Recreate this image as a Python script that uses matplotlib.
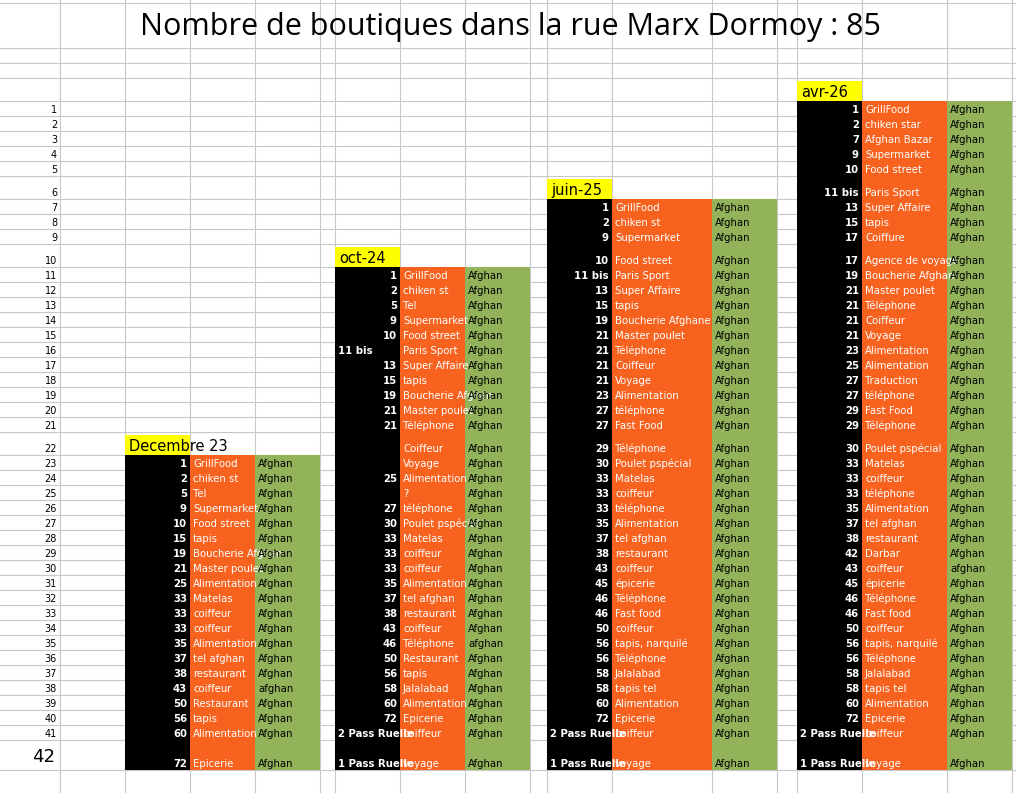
import matplotlib
matplotlib.use("Agg")
import matplotlib.pyplot as plt
from matplotlib.transforms import Bbox, TransformedBbox

title = "Nombre de boutiques dans la rue Marx Dormoy : 85"

dec23_label = "Decembre 23"
dec23_start = 23
dec23_num = ["1","2","5","9","10","15","19","21","25","33","33","33","35","37","38","43","50","56","60","72"]
dec23_shop = ["GrillFood","chiken st","Tel","Supermarket","Food street","tapis","Boucherie Afghan","Master poulet",
              "Alimentation","Matelas","coiffeur","coiffeur","Alimentation","tel afghan","restaurant","coiffeur",
              "Restaurant","tapis","Alimentation","Epicerie"]
dec23_orig = ["Afghan"]*15 + ["afghan"] + ["Afghan"]*4

oct24_label = "oct-24"
oct24_start = 11
oct24_num = ["1","2","5","9","10","11 bis","13","15","19","21","21","","","25","","27","30","33","33","33","35",
             "37","38","43","46","50","56","58","60","72","2 Pass Ruelle","1 Pass Ruelle"]
oct24_shop = ["GrillFood","chiken st","Tel","Supermarket","Food street","Paris Sport","Super Affaire","tapis",
              "Boucherie Afghan","Master poulet","Téléphone","Coiffeur","Voyage","Alimentation","?","téléphone",
              "Poulet pspécial","Matelas","coiffeur","coiffeur","Alimentation","tel afghan","restaurant","coiffeur",
              "Téléphone","Restaurant","tapis","Jalalabad","Alimentation","Epicerie","coiffeur","voyage"]
oct24_orig = ["Afghan"]*24 + ["afghan"] + ["Afghan"]*7

jun25_label = "juin-25"
jun25_start = 7
jun25_num = ["1","2","9","10","11 bis","13","15","19","21","21","21","21","23","27","27","29","30","33","33","33",
             "35","37","38","43","45","46","46","50","56","56","58","58","60","72","2 Pass Ruelle","1 Pass Ruelle"]
jun25_shop = ["GrillFood","chiken st","Supermarket","Food street","Paris Sport","Super Affaire","tapis",
              "Boucherie Afghane","Master poulet","Téléphone","Coiffeur","Voyage","Alimentation","téléphone",
              "Fast Food","Téléphone","Poulet pspécial","Matelas","coiffeur","téléphone","Alimentation","tel afghan",
              "restaurant","coiffeur","épicerie","Téléphone","Fast food","coiffeur","tapis, narquilé","Téléphone",
              "Jalalabad","tapis tel","Alimentation","Epicerie","coiffeur","voyage"]
jun25_orig = ["Afghan"]*36

avr26_label = "avr-26"
avr26_start = 1
avr26_num = ["1","2","7","9","10","11 bis","13","15","17","17","19","21","21","21","21","23","25","27","27","29",
             "29","30","33","33","33","35","37","38","42","43","45","46","46","50","56","56","58","58","60","72",
             "2 Pass Ruelle","1 Pass Ruelle"]
avr26_shop = ["GrillFood","chiken star","Afghan Bazar","Supermarket","Food street","Paris Sport","Super Affaire",
              "tapis","Coiffure","Agence de voyage","Boucherie Afghan","Master poulet","Téléphone","Coiffeur",
              "Voyage","Alimentation","Alimentation","Traduction","téléphone","Fast Food","Téléphone",
              "Poulet pspécial","Matelas","coiffeur","téléphone","Alimentation","tel afghan","restaurant","Darbar",
              "coiffeur","épicerie","Téléphone","Fast food","coiffeur","tapis, narquilé","Téléphone","Jalalabad",
              "tapis tel","Alimentation","Epicerie","coiffeur","voyage"]
avr26_orig = ["Afghan"]*29 + ["afghan"] + ["Afghan"]*12

row_labels = [str(i) for i in range(1, 43)]

# ---- layout (pixels) ----
W, H = 1016, 793
fig = plt.figure(figsize=(W/100, H/100), dpi=100)
ax = fig.add_axes([0, 0, 1, 1])
ax.set_xlim(0, W); ax.set_ylim(H, 0); ax.axis("off")

heights = {6: 23, 10: 23, 22: 23, 42: 30}
tops = {}
y = 101
for r in range(1, 43):
    tops[r] = y
    y += heights.get(r, 15)
bottom_end = y
hlines = [3, 48, 63, 78] + [tops[r] for r in range(1, 43)] + [bottom_end]
vlines = [60, 125, 190, 255, 320, 335, 400, 465, 530, 547, 612, 712, 777, 797, 862, 947, 1012]
grid = "#c8c8c8"
for h in hlines:
    ax.plot([0, W], [h, h], color=grid, lw=0.8, zorder=0)
for v in vlines:
    ax.plot([v, v], [0, H], color=grid, lw=0.8, zorder=0)

ax.text(510, 27, title, fontsize=22, family="Open Sans", ha="center", va="center")

for r, lab in zip(range(1, 43), row_labels):
    bot = tops[r] + heights.get(r, 15)
    if r == 42:
        ax.text(55, bot - 8, lab, fontsize=13, ha="right", va="baseline")
    else:
        ax.text(57, bot - 3, lab, fontsize=7, ha="right", va="baseline")


def clipbox(xa, xb):
    return TransformedBbox(Bbox([[xa, 0], [xb, H]]), ax.transData)


BLACK, ORANGE, GREEN, YELLOW = "#000000", "#f7621f", "#93b35b", "#ffff00"
blocks = [
    (dec23_label, dec23_start, dec23_num, dec23_shop, dec23_orig, (125, 190, 255, 320), False),
    (oct24_label, oct24_start, oct24_num, oct24_shop, oct24_orig, (335, 400, 465, 530), True),
    (jun25_label, jun25_start, jun25_num, jun25_shop, jun25_orig, (547, 612, 712, 777), False),
    (avr26_label, avr26_start, avr26_num, avr26_shop, avr26_orig, (797, 862, 947, 1012), False),
]
fs = 7.3
for label, start, nums, shops, origs, (x0, x1, x2, x3), left_bis in blocks:
    rows = list(range(start, start + len(nums)))
    ys = [tops[r] for r in rows]
    hs = [heights.get(r, 15) for r in rows]
    ax.bar([x0]*len(rows), hs, width=x1-x0, bottom=ys, align="edge", color=BLACK, lw=0, zorder=1)
    ax.bar([x1]*len(rows), hs, width=x2-x1, bottom=ys, align="edge", color=ORANGE, lw=0, zorder=1)
    ax.bar([x2]*len(rows), hs, width=x3-x2, bottom=ys, align="edge", color=GREEN, lw=0, zorder=1)
    if start > 1:
        hr = start - 1
        htop, hh = tops[hr], heights.get(hr, 15)
    else:
        htop, hh = 78, 23
    ax.bar([x0], [hh - 3], width=x1-x0, bottom=[htop + 3], align="edge", color=YELLOW, lw=0, zorder=1)
    ax.text(x0 + 4, htop + hh - 4, label, fontsize=10.5, ha="left", va="baseline", zorder=3)
    for r, n, s, o in zip(rows, nums, shops, origs):
        b = tops[r] + heights.get(r, 15) - 3
        if "Pass" in n or (left_bis and "bis" in n):
            t = ax.text(x0 + 3, b, n, fontsize=fs, color="white", fontweight="bold", ha="left", va="baseline", zorder=3)
            t.set_clip_box(clipbox(x0, x1 - 1))
        else:
            ax.text(x1 - 3, b, n, fontsize=fs, color="white", fontweight="bold", ha="right", va="baseline", zorder=3)
        t = ax.text(x1 + 3, b, s, fontsize=fs, color="white", ha="left", va="baseline", zorder=3)
        t.set_clip_box(clipbox(x1, x2 - 1))
        t = ax.text(x2 + 3, b, o, fontsize=fs, color="black", ha="left", va="baseline", zorder=3)
        t.set_clip_box(clipbox(x2, x3))

fig.savefig("out.png", dpi=100, facecolor="white")
